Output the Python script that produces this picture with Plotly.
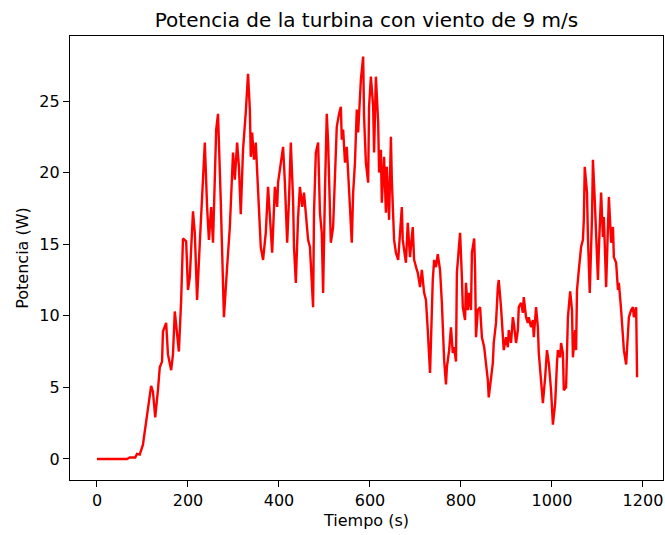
import plotly.graph_objects as go

tiempo = [0, 66, 72, 84, 88, 94, 101, 110, 119, 123, 128, 134, 138, 143, 145, 152, 156, 163, 167, 171,
          176, 180, 185, 189, 196, 200, 204, 211, 215, 220, 226, 233, 237, 242, 246, 251, 255, 262, 266, 272,
          279, 286, 292, 299, 303, 308, 312, 316, 321, 327, 332, 336, 338, 341, 345, 349, 354, 358, 360, 365,
          371, 376, 380, 385, 391, 396, 398, 404, 409, 413, 418, 422, 426, 431, 433, 437, 442, 446, 451, 455,
          459, 464, 468, 472, 475, 477, 481, 486, 490, 494, 497, 501, 505, 508, 512, 514, 519, 523, 527, 532,
          536, 538, 541, 545, 549, 554, 560, 563, 567, 571, 574, 580, 585, 587, 591, 596, 598, 602, 607, 609,
          613, 618, 620, 624, 626, 631, 635, 637, 642, 646, 648, 653, 657, 662, 666, 670, 672, 679, 683, 688,
          694, 697, 703, 705, 710, 714, 719, 723, 727, 732, 738, 741, 745, 749, 754, 758, 763, 767, 769, 774,
          778, 782, 785, 789, 791, 796, 798, 802, 804, 809, 811, 815, 818, 822, 824, 829, 831, 833, 837, 842,
          846, 851, 855, 859, 861, 866, 870, 872, 877, 881, 883, 888, 892, 894, 899, 903, 905, 910, 914, 916,
          921, 925, 927, 932, 936, 938, 943, 947, 949, 954, 958, 960, 965, 969, 971, 976, 980, 985, 989, 993,
          998, 1002, 1007, 1011, 1013, 1018, 1020, 1024, 1026, 1031, 1033, 1035, 1040, 1044, 1046, 1051, 1053, 1055, 1059, 1064,
          1068, 1070, 1072, 1077, 1079, 1083, 1088, 1090, 1094, 1099, 1101, 1103, 1108, 1112, 1114, 1119, 1123, 1125, 1130, 1134,
          1136, 1141, 1145, 1147, 1152, 1156, 1158, 1163, 1167, 1169, 1174, 1178, 1180, 1185, 1187]

potencia = [0, 0, 0.1, 0.1, 0.35, 0.3, 1.0, 2.9, 5.1, 4.7, 2.9, 4.8, 6.4, 6.8, 8.9, 9.5, 7.3, 6.2, 7.3, 10.3,
            8.6, 7.5, 11.1, 15.4, 15.2, 11.8, 12.7, 17.3, 15.8, 11.1, 15.1, 19.3, 22.1, 17.6, 15.3, 17.6, 15.1, 23.0, 24.1, 18.1,
            9.9, 13.4, 16.2, 21.4, 19.5, 22.1, 20.4, 17.1, 21.6, 24.2, 26.9, 24.4, 21.1, 22.8, 20.9, 22.1, 18.6, 15.8, 14.8, 13.9,
            15.8, 19.0, 17.2, 14.4, 19.0, 17.6, 19.3, 20.9, 21.8, 19.3, 15.1, 18.1, 22.1, 18.1, 14.8, 12.3, 16.9, 19.0, 17.6, 18.6,
            17.2, 15.3, 14.8, 12.0, 10.6, 17.2, 21.4, 22.1, 17.2, 15.8, 11.6, 18.6, 24.1, 22.1, 17.4, 15.1, 16.2, 20.0, 23.2, 24.1,
            24.6, 22.3, 23.0, 20.7, 21.8, 18.8, 15.1, 18.6, 20.7, 24.4, 22.8, 26.5, 28.1, 23.9, 20.7, 19.3, 24.6, 26.7, 24.6, 21.4,
            26.7, 23.5, 20.0, 21.6, 17.9, 21.1, 17.2, 20.4, 16.7, 22.5, 19.5, 15.3, 14.4, 13.9, 16.2, 17.6, 15.3, 13.7, 16.5, 14.1,
            16.2, 13.9, 13.2, 13.0, 12.0, 13.2, 11.6, 11.1, 9.0, 6.0, 12.5, 13.9, 13.4, 14.3, 13.2, 10.9, 6.9, 5.2, 6.4, 7.6,
            9.2, 7.4, 7.8, 6.8, 13.0, 14.8, 15.8, 12.7, 10.6, 9.7, 12.3, 10.4, 11.6, 10.4, 14.4, 15.4, 13.2, 8.5, 10.4, 10.6,
            8.5, 7.8, 6.7, 5.5, 4.3, 5.7, 6.7, 8.1, 9.5, 12.0, 12.5, 10.6, 8.5, 7.6, 8.5, 7.8, 9.0, 8.1, 9.9, 9.5,
            8.1, 9.0, 10.6, 10.9, 10.2, 11.3, 9.9, 9.5, 9.9, 9.2, 9.7, 8.5, 10.6, 9.2, 7.4, 5.5, 3.9, 5.7, 7.6, 6.7,
            4.8, 2.4, 3.9, 6.7, 7.6, 7.1, 8.1, 7.4, 4.8, 5.0, 8.1, 9.9, 11.7, 10.4, 7.1, 9.0, 7.6, 11.8, 13.2, 14.8,
            15.3, 16.7, 20.4, 18.6, 15.5, 11.6, 16.9, 20.9, 18.1, 14.6, 12.5, 14.6, 18.6, 15.5, 16.9, 12.0, 15.5, 18.3, 15.1, 16.2,
            14.1, 13.7, 11.8, 12.3, 10.4, 8.8, 7.6, 6.6, 8.5, 9.9, 10.4, 10.6, 9.9, 10.6, 5.7]

x_ticks = [0, 200, 400, 600, 800, 1000, 1200]
y_ticks = [0, 5, 10, 15, 20, 25]

font = "DejaVu Sans"

fig = go.Figure()
fig.add_trace(go.Scatter(x=tiempo, y=potencia, mode="lines",
                         line=dict(color="#ff0000", width=2.4), showlegend=False))

axis_common = dict(showgrid=False, zeroline=False, showline=True, linecolor="black",
                   linewidth=1.3, mirror=True, ticks="outside", ticklen=6, tickwidth=1.3,
                   tickcolor="black", automargin=False,
                   tickfont=dict(family=font, size=16, color="black"))

fig.update_layout(
    width=665, height=535,
    margin=dict(l=70, r=2, t=36, b=55),
    paper_bgcolor="white", plot_bgcolor="white",
    title=dict(text="Potencia de la turbina con viento de 9 m/s", x=(70 + 663) / 2 / 665,
               xanchor="center", y=1 - 20 / 535, yanchor="middle",
               font=dict(family=font, size=20, color="black")),
    xaxis=dict(range=[-59.3, 1244], tickvals=x_ticks, ticktext=[str(v) for v in x_ticks],
               title=dict(text="Tiempo (s)", font=dict(family=font, size=16, color="black"), standoff=5),
               **axis_common),
    yaxis=dict(range=[-1.47, 29.54], tickvals=y_ticks, ticktext=[str(v) for v in y_ticks],
               title=dict(text="Potencia (W)", font=dict(family=font, size=16, color="black"), standoff=6),
               **axis_common),
)

fig.write_html("out.html", config={"displayModeBar": False},
               post_script="document.body.style.margin='0';document.body.style.overflow='hidden';")
